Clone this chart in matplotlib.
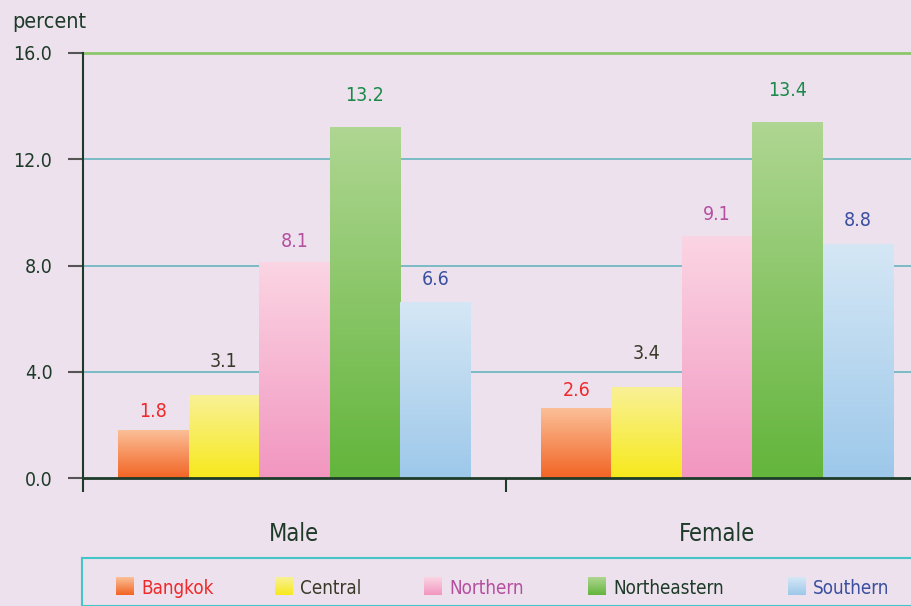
import numpy as np
import matplotlib
matplotlib.use("Agg")
import matplotlib.pyplot as plt
from matplotlib.colors import LinearSegmentedColormap

plt.rcParams['font.family'] = ['DejaVu Sans']
plt.rcParams['font.stretch'] = 'condensed'

groups = ["Male", "Female"]
regions = ["Bangkok", "Central", "Northern", "Northeastern", "Southern"]
bangkok = [1.8, 2.6]
central = [3.1, 3.4]
northern = [8.1, 9.1]
northeastern = [13.2, 13.4]
southern = [6.6, 8.8]
yticks = [0.0, 4.0, 8.0, 12.0, 16.0]

series = [bangkok, central, northern, northeastern, southern]

# gradient colours (top, bottom) and label colour per region
top_col = ["#fbbf97", "#f9f196", "#fbd5e3", "#afd692", "#d5e7f5"]
bot_col = ["#f26424", "#f7e91c", "#f296c0", "#63b53c", "#9dc8ea"]
lab_col = ["#ee2a2a", "#3a3a2a", "#b54fa0", "#1a8a4a", "#3a4fa0"]
lab_off = [9, 25, 12, 22, 14]

bg = "#ede1ed"
dark = "#1e3a28"

fig = plt.figure(figsize=(9.12, 6.06), dpi=100, facecolor=bg)
W, H = 912, 606
ax = fig.add_axes([83 / W, 1 - 478 / H, 1 - 83 / W, (478 - 53) / H])
ax.set_facecolor(bg)

x = np.arange(len(groups))
bw = 0.1667
grad = np.linspace(0, 1, 256).reshape(-1, 1)
for i, vals in enumerate(series):
    pos = x + (i - 2) * bw
    bars = ax.bar(pos, vals, bw, color="none", edgecolor="none", zorder=3)
    cmap = LinearSegmentedColormap.from_list("g%d" % i, [bot_col[i], top_col[i]])
    for b, v in zip(bars, vals):
        x0 = b.get_x()
        ax.imshow(grad, cmap=cmap, origin="lower", aspect="auto",
                  extent=[x0, x0 + b.get_width(), 0, v], zorder=3)
        ax.annotate("%.1f" % v, (x0 + b.get_width() / 2, v),
                    xytext=(0, lab_off[i]), textcoords="offset pixels",
                    ha="center", va="bottom", color=lab_col[i], fontsize=14)

ax.set_xlim(-0.5, 1 + (912 - 717) / 423)
ax.set_ylim(0, 16)

for yv in yticks[1:-1]:
    ax.axhline(yv, color="#72b8c2", lw=1.3, zorder=1)
ax.axhline(16, color="#8cc66a", lw=2, zorder=1, clip_on=False)

ax.set_yticks(yticks)
ax.set_yticklabels(["%.1f" % t for t in yticks], fontsize=14, color=dark)
ax.set_xticks([-0.5, 0.5])
ax.set_xticklabels([])
ax.tick_params(axis="y", length=11, width=1.5, color="#555555", pad=11)
ax.tick_params(axis="x", length=10, width=1.5, color=dark)
for s in ["top", "right"]:
    ax.spines[s].set_visible(False)
ax.spines["left"].set_color(dark)
ax.spines["left"].set_linewidth(1.5)
ax.spines["bottom"].set_color(dark)
ax.spines["bottom"].set_linewidth(2)
ax.spines["bottom"].set_zorder(5)

for gx, g in zip(x, groups):
    ax.text(gx, -2.1, g, ha="center", va="center", fontsize=17, color=dark)

fig.text(12 / W, 1 - 22 / H, "percent", ha="left", va="center",
         fontsize=15.5, color=dark)

# legend panel
lg = fig.add_axes([82 / W, 0, 1 - 82 / W + 0.01, (606 - 558) / H])
lg.set_facecolor(bg)
lg.set_xticks([])
lg.set_yticks([])
for s in lg.spines.values():
    s.set_color("#44c6c8")
    s.set_linewidth(1.5)
hx = [34, 193, 342, 506, 706]
lgrad = np.linspace(0, 1, 64).reshape(-1, 1)
for i, name in enumerate(regions):
    cmap = LinearSegmentedColormap.from_list("l%d" % i, [bot_col[i], top_col[i]])
    lg.imshow(lgrad, cmap=cmap, origin="lower", aspect="auto",
              extent=[hx[i], hx[i] + 17, 37, 19], zorder=3)
    lg.text(hx[i] + 25, 31, name, ha="left", va="center", fontsize=13.5,
            color=lab_col[i] if i != 3 else dark)
lg.set_xlim(0, 912 - 82 + 9)
lg.set_ylim(48, 0)

fig.savefig("out.png", dpi=100, facecolor=bg)
